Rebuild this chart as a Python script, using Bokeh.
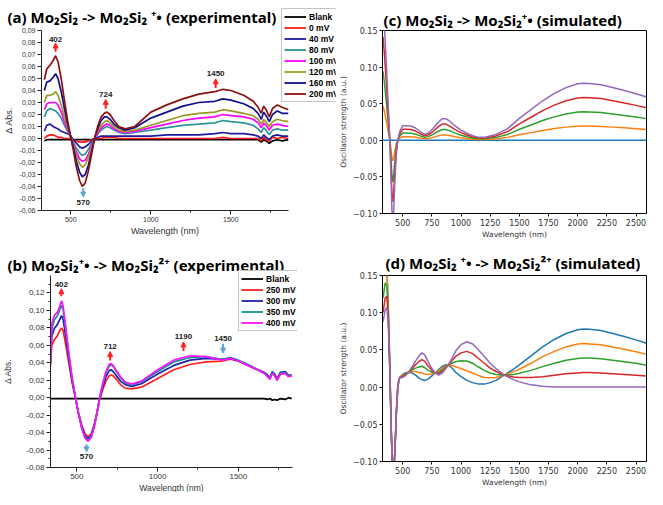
from bokeh.plotting import figure
from bokeh.layouts import column, row
from bokeh.models import (FixedTicker, CustomJSTickFormatter, Legend, LegendItem,
                          Arrow, NormalHead, Label, Range1d)
from bokeh.embed import file_html
from bokeh.resources import INLINE

# ---------------- Panel (a): experimental, Mo2Si2 -> Mo2Si2+ ----------------
wl_a = [335, 350, 370, 390, 405, 420, 440, 460, 480, 495, 515, 535, 555, 572, 590,
        610, 630, 648, 670, 690, 710, 725, 745, 770, 800, 840, 900, 1000, 1100, 1200,
        1300, 1400, 1450, 1500, 1580, 1640, 1670, 1690, 1705, 1720, 1740, 1760, 1790, 1820, 1860]
a_blank = [-0.002, -0.001, -0.001, -0.001, -0.001, -0.001, -0.001, -0.001, -0.001, -0.001,
           -0.001, -0.001, -0.001, -0.001, -0.001, -0.001, -0.001, -0.001, -0.001, -0.001,
           -0.001, -0.001, -0.001, -0.001, -0.001, -0.001, -0.001, -0.001, -0.001, -0.001,
           -0.001, -0.001, -0.001, -0.001, -0.001, -0.001, -0.001, -0.003, -0.001, -0.002,
           -0.004, -0.002, -0.001, -0.002, -0.001]
a_0 = [0.000, 0.002, 0.003, 0.003, 0.002, 0.001, 0.001, 0.000, 0.000, 0.000,
       -0.001, -0.002, -0.003, -0.003, -0.003, -0.002, -0.001, 0.000, 0.000, 0.000,
       0.001, 0.001, 0.001, 0.001, 0.000, 0.000, 0.000, 0.000, 0.000, 0.000,
       0.000, 0.000, 0.001, 0.000, 0.000, 0.000, 0.000, -0.002, 0.001, -0.001,
       -0.002, 0.001, 0.000, 0.001, 0.000]
a_40 = [0.006, 0.011, 0.012, 0.010, 0.009, 0.008, 0.006, 0.005, 0.004, 0.003,
        -0.001, -0.004, -0.007, -0.008, -0.007, -0.005, -0.002, 0.000, 0.001, 0.002,
        0.002, 0.002, 0.002, 0.002, 0.002, 0.002, 0.002, 0.002, 0.003, 0.003,
        0.003, 0.004, 0.005, 0.004, 0.004, 0.003, 0.002, 0.000, 0.003, 0.001,
        -0.001, 0.002, 0.003, 0.002, 0.002]
a_80 = [0.018, 0.023, 0.025, 0.024, 0.023, 0.021, 0.017, 0.011, 0.006, 0.003,
        -0.003, -0.008, -0.012, -0.014, -0.013, -0.009, -0.004, 0.000, 0.004, 0.007,
        0.009, 0.010, 0.009, 0.007, 0.005, 0.004, 0.005, 0.007, 0.009, 0.011,
        0.012, 0.013, 0.015, 0.014, 0.013, 0.011, 0.008, 0.005, 0.009, 0.007,
        0.003, 0.007, 0.008, 0.007, 0.007]
a_100 = [0.024, 0.029, 0.030, 0.030, 0.030, 0.028, 0.022, 0.014, 0.007, 0.003,
         -0.004, -0.011, -0.017, -0.019, -0.018, -0.013, -0.006, 0.000, 0.005, 0.009,
         0.011, 0.012, 0.011, 0.008, 0.006, 0.005, 0.006, 0.009, 0.012, 0.015,
         0.017, 0.018, 0.020, 0.019, 0.018, 0.016, 0.013, 0.009, 0.013, 0.011,
         0.007, 0.011, 0.012, 0.011, 0.010]
a_120 = [0.030, 0.036, 0.036, 0.037, 0.039, 0.036, 0.028, 0.018, 0.009, 0.003,
         -0.005, -0.014, -0.021, -0.024, -0.022, -0.016, -0.008, 0.000, 0.007, 0.011,
         0.014, 0.015, 0.013, 0.010, 0.007, 0.006, 0.007, 0.011, 0.015, 0.019,
         0.021, 0.022, 0.024, 0.023, 0.021, 0.019, 0.016, 0.012, 0.016, 0.014,
         0.010, 0.014, 0.016, 0.015, 0.014]
a_160 = [0.040, 0.047, 0.048, 0.051, 0.054, 0.050, 0.039, 0.025, 0.012, 0.004,
         -0.007, -0.019, -0.028, -0.032, -0.030, -0.022, -0.011, 0.000, 0.009, 0.015,
         0.018, 0.018, 0.016, 0.012, 0.009, 0.007, 0.009, 0.017, 0.022, 0.027,
         0.030, 0.031, 0.033, 0.032, 0.029, 0.025, 0.021, 0.016, 0.022, 0.019,
         0.014, 0.020, 0.023, 0.021, 0.021]
a_200 = [0.049, 0.058, 0.061, 0.065, 0.069, 0.064, 0.050, 0.032, 0.015, 0.004,
         -0.009, -0.024, -0.035, -0.040, -0.037, -0.027, -0.013, 0.000, 0.011, 0.018,
         0.021, 0.022, 0.020, 0.015, 0.010, 0.008, 0.010, 0.022, 0.028, 0.033,
         0.037, 0.039, 0.041, 0.040, 0.036, 0.031, 0.026, 0.021, 0.027, 0.024,
         0.018, 0.025, 0.028, 0.026, 0.024]
a_labels = ["Blank", "0 mV", "40 mV", "80 mV", "100 mV", "120 mV", "160 mV", "200 mV"]
a_colors = ["#000000", "#ff1a1a", "#1c1ca0", "#2e9499", "#ff00ff", "#999926", "#10108c", "#8b1010"]
a_yticks = [-0.06, -0.05, -0.04, -0.03, -0.02, -0.01, 0.0, 0.01, 0.02, 0.03, 0.04, 0.05, 0.06, 0.07, 0.08, 0.09]
a_ann_x = [405, 718, 1405, 578]
a_ann_y0 = [0.0722, 0.0248, 0.0420, -0.0414]
a_ann_y1 = [0.0796, 0.0326, 0.0497, -0.0488]
a_ann_text = ["402", "724", "1450", "570"]
a_ann_ty = [0.0808, 0.0350, 0.0522, -0.0509]

# ---------------- Panel (b): experimental, Mo2Si2+ -> Mo2Si2 2+ ----------------
wl_b = [335, 345, 360, 380, 395, 405, 415, 430, 450, 470, 490, 510, 530, 550, 570, 590,
        610, 625, 640, 660, 680, 700, 712, 725, 745, 770, 800, 840, 900, 1000, 1100, 1200,
        1300, 1400, 1450, 1500, 1560, 1620, 1660, 1680, 1695, 1710, 1725, 1740, 1760, 1790, 1810, 1830]
b_blank = [-0.001, -0.001, -0.001, -0.001, -0.001, -0.001, -0.001, -0.001, -0.001, -0.001,
           -0.001, -0.001, -0.001, -0.001, -0.001, -0.001, -0.001, -0.001, -0.001, -0.001,
           -0.001, -0.001, -0.001, -0.001, -0.001, -0.001, -0.001, -0.001, -0.001, -0.001,
           -0.001, -0.001, -0.001, -0.001, -0.001, -0.001, -0.001, -0.001, -0.001, -0.002,
           -0.001, -0.003, -0.002, -0.003, -0.001, -0.002, 0.000, -0.001]
b_250 = [0.034, 0.060, 0.066, 0.071, 0.077, 0.080, 0.077, 0.062, 0.040, 0.018,
         0.001, -0.017, -0.031, -0.041, -0.045, -0.041, -0.029, -0.017, -0.003, 0.009,
         0.019, 0.025, 0.026, 0.025, 0.021, 0.015, 0.011, 0.010, 0.012, 0.022,
         0.032, 0.038, 0.041, 0.042, 0.044, 0.042, 0.037, 0.032, 0.028, 0.025,
         0.022, 0.028, 0.025, 0.020, 0.027, 0.028, 0.025, 0.025]
b_300 = [0.036, 0.070, 0.079, 0.084, 0.090, 0.094, 0.090, 0.072, 0.045, 0.020,
         0.001, -0.018, -0.033, -0.044, -0.047, -0.043, -0.030, -0.017, -0.002, 0.012,
         0.024, 0.031, 0.032, 0.030, 0.025, 0.019, 0.015, 0.013, 0.016, 0.027,
         0.037, 0.043, 0.045, 0.044, 0.045, 0.042, 0.037, 0.032, 0.029, 0.026,
         0.023, 0.030, 0.027, 0.022, 0.029, 0.030, 0.026, 0.026]
b_350 = [0.035, 0.078, 0.089, 0.094, 0.101, 0.106, 0.101, 0.080, 0.050, 0.023,
         0.002, -0.018, -0.034, -0.045, -0.049, -0.044, -0.031, -0.017, -0.001, 0.015,
         0.029, 0.036, 0.038, 0.036, 0.030, 0.023, 0.017, 0.0145, 0.018, 0.030,
         0.041, 0.046, 0.047, 0.044, 0.046, 0.043, 0.038, 0.032, 0.028, 0.025,
         0.022, 0.029, 0.026, 0.021, 0.028, 0.029, 0.025, 0.026]
b_400 = [0.035, 0.085, 0.094, 0.098, 0.105, 0.111, 0.105, 0.083, 0.052, 0.024,
         0.002, -0.018, -0.035, -0.046, -0.050, -0.045, -0.032, -0.018, -0.001, 0.016,
         0.030, 0.038, 0.039, 0.037, 0.031, 0.024, 0.018, 0.0155, 0.019, 0.032,
         0.043, 0.048, 0.047, 0.043, 0.045, 0.042, 0.037, 0.032, 0.028, 0.024,
         0.021, 0.028, 0.025, 0.020, 0.027, 0.028, 0.024, 0.025]
b_labels = ["Blank", "250 mV", "300 mV", "350 mV", "400 mV"]
b_colors = ["#000000", "#ff2020", "#2020b0", "#109090", "#ff10ff"]
b_yticks = [-0.08, -0.06, -0.04, -0.02, 0.0, 0.02, 0.04, 0.06, 0.08, 0.10, 0.12]
b_yminor = [-0.07, -0.05, -0.03, -0.01, 0.01, 0.03, 0.05, 0.07, 0.09, 0.11, 0.13]
b_ann_x = [404, 706, 1160, 1405, 560]
b_ann_y0 = [0.1163, 0.0425, 0.0536, 0.0617, -0.0534]
b_ann_y1 = [0.1248, 0.0528, 0.0639, 0.0511, -0.0620]
b_ann_text = ["402", "712", "1190", "1450", "570"]
b_ann_ty = [0.1264, 0.0556, 0.0667, 0.0650, -0.0640]

# ---------------- Panel (c): simulated, Mo2Si2 -> Mo2Si2+ ----------------
wl_c = [332, 345, 360, 375, 390, 400, 408, 415, 423, 432, 445, 458, 475, 500, 530, 570,
        610, 650, 690, 720, 760, 800, 840, 870, 900, 950, 1000, 1050, 1100, 1150, 1200,
        1250, 1300, 1400, 1500, 1600, 1700, 1800, 1900, 2000, 2050, 2100, 2200, 2300, 2400, 2500, 2590]
c_blue = [0.0, 0.0, 0.0, 0.0, 0.0, 0.0, 0.0, 0.0, 0.0, 0.0, 0.0, 0.0, 0.0, 0.0, 0.0, 0.0,
          0.0, 0.0, 0.0, 0.0, 0.0, 0.0, 0.0, 0.0, 0.0, 0.0, 0.0, 0.0, 0.0, 0.0, 0.0,
          0.0, 0.0, 0.0, 0.0, 0.0, 0.0, 0.0, 0.0, 0.0, 0.0, 0.0, 0.0, 0.0, 0.0, 0.0, 0.0]
c_orange = [0.047, 0.038, 0.026, 0.013, 0.000, -0.013, -0.024, -0.028, -0.024, -0.015,
            -0.005, 0.000, 0.003, 0.005, 0.005, 0.0049, 0.0042, 0.003, 0.002, 0.0025,
            0.004, 0.006, 0.0074, 0.0074, 0.0066, 0.0049, 0.0035, 0.0024, 0.0016, 0.001,
            0.001, 0.0015, 0.002, 0.004, 0.0075, 0.0105, 0.0135, 0.016, 0.018, 0.0193,
            0.0195, 0.0194, 0.019, 0.018, 0.017, 0.0159, 0.0148]
c_green = [0.094, 0.076, 0.052, 0.026, 0.000, -0.026, -0.048, -0.057, -0.048, -0.030,
           -0.010, 0.000, 0.006, 0.010, 0.010, 0.0098, 0.0084, 0.006, 0.004, 0.005,
           0.008, 0.012, 0.0148, 0.0148, 0.0132, 0.0098, 0.007, 0.0048, 0.0032, 0.002,
           0.002, 0.003, 0.004, 0.008, 0.015, 0.021, 0.027, 0.032, 0.036, 0.0386,
           0.039, 0.0388, 0.038, 0.036, 0.034, 0.0318, 0.0296]
c_red = [0.141, 0.114, 0.078, 0.039, 0.000, -0.039, -0.072, -0.084, -0.072, -0.045,
         -0.015, 0.000, 0.009, 0.015, 0.015, 0.0147, 0.0126, 0.009, 0.006, 0.0075,
         0.012, 0.018, 0.0222, 0.0222, 0.0198, 0.0147, 0.0105, 0.0072, 0.0048, 0.003,
         0.003, 0.0045, 0.006, 0.012, 0.0225, 0.0315, 0.0405, 0.048, 0.054, 0.0579,
         0.0585, 0.0582, 0.057, 0.054, 0.051, 0.0477, 0.0444]
c_purple = [0.188, 0.152, 0.104, 0.052, 0.000, -0.052, -0.096, -0.112, -0.096, -0.060,
            -0.020, 0.000, 0.012, 0.020, 0.020, 0.0196, 0.0168, 0.012, 0.008, 0.010,
            0.016, 0.024, 0.0296, 0.0296, 0.0264, 0.0196, 0.014, 0.0096, 0.0064, 0.004,
            0.004, 0.006, 0.008, 0.016, 0.030, 0.042, 0.054, 0.064, 0.072, 0.0772,
            0.078, 0.0776, 0.076, 0.072, 0.068, 0.0636, 0.0592]

# ---------------- Panel (d): simulated, Mo2Si2+ -> Mo2Si2 2+ ----------------
wl_d = [332, 350, 365, 378, 390, 400, 412, 422, 435, 447, 458, 468, 480, 500, 520, 550,
        580, 610, 640, 665, 690, 720, 750, 780, 810, 840, 870, 890, 920, 960, 1000, 1050,
        1100, 1150, 1200, 1250, 1300, 1370, 1450, 1500, 1600, 1700, 1800, 1900, 2000,
        2050, 2100, 2200, 2300, 2400, 2500, 2590]
d_blue = [0.160, 0.172, 0.160, 0.100, 0.030, -0.045, -0.115, -0.120, -0.080, -0.030,
          0.000, 0.010, 0.014, 0.017, 0.019, 0.020, 0.019, 0.016, 0.012, 0.010,
          0.009, 0.011, 0.015, 0.019, 0.024, 0.028, 0.030, 0.0295, 0.026, 0.019,
          0.014, 0.009, 0.006, 0.004, 0.004, 0.006, 0.009, 0.016, 0.024, 0.030,
          0.042, 0.054, 0.064, 0.072, 0.077, 0.078, 0.0778, 0.076, 0.072, 0.068,
          0.0635, 0.059]
d_orange = [0.152, 0.168, 0.156, 0.098, 0.028, -0.045, -0.115, -0.120, -0.080, -0.030,
            0.000, 0.010, 0.014, 0.016, 0.018, 0.020, 0.021, 0.021, 0.0195, 0.019,
            0.0175, 0.017, 0.0175, 0.019, 0.022, 0.026, 0.029, 0.0295, 0.029, 0.027,
            0.025, 0.022, 0.019, 0.0155, 0.013, 0.0125, 0.013, 0.016, 0.0205, 0.024,
            0.032, 0.041, 0.048, 0.054, 0.058, 0.0585, 0.058, 0.057, 0.054, 0.051,
            0.0475, 0.044]
d_green = [0.120, 0.140, 0.136, 0.090, 0.025, -0.045, -0.115, -0.120, -0.080, -0.030,
           0.000, 0.010, 0.0135, 0.015, 0.017, 0.020, 0.023, 0.0255, 0.027, 0.028,
           0.026, 0.0225, 0.020, 0.019, 0.020, 0.0235, 0.0275, 0.0295, 0.032, 0.0345,
           0.0355, 0.035, 0.032, 0.027, 0.0225, 0.019, 0.017, 0.016, 0.017, 0.0185,
           0.0225, 0.0275, 0.032, 0.036, 0.0385, 0.039, 0.039, 0.038, 0.036, 0.034,
           0.032, 0.0295]
d_red = [0.100, 0.120, 0.122, 0.085, 0.022, -0.045, -0.115, -0.120, -0.080, -0.030,
         0.000, 0.010, 0.013, 0.014, 0.016, 0.020, 0.025, 0.030, 0.0345, 0.037,
         0.0345, 0.028, 0.0225, 0.019, 0.018, 0.021, 0.026, 0.0295, 0.035, 0.042,
         0.046, 0.048, 0.045, 0.0385, 0.032, 0.0255, 0.021, 0.016, 0.0135, 0.013,
         0.013, 0.014, 0.016, 0.018, 0.019, 0.0195, 0.0195, 0.019, 0.018, 0.017,
         0.016, 0.0148]
d_purple = [0.088, 0.104, 0.107, 0.078, 0.020, -0.045, -0.115, -0.120, -0.080, -0.030,
            0.000, 0.010, 0.013, 0.013, 0.015, 0.020, 0.027, 0.035, 0.042, 0.046,
            0.043, 0.034, 0.025, 0.019, 0.016, 0.019, 0.025, 0.0295, 0.038, 0.050,
            0.057, 0.061, 0.058, 0.050, 0.041, 0.032, 0.025, 0.016, 0.010, 0.007,
            0.003, 0.001, 0.000, 0.000, 0.000, 0.000, 0.000, 0.000, 0.000, 0.000,
            0.000, 0.000]
sim_colors = ["#1f77b4", "#ff7f0e", "#2ca02c", "#d62728", "#9467bd"]
sim_xticks = [500, 750, 1000, 1250, 1500, 1750, 2000, 2250, 2500]
sim_yticks = [-0.10, -0.05, 0.0, 0.05, 0.10, 0.15]

titles = ["(a) Mo\u2082Si\u2082 -> Mo\u2082Si\u2082 \u207a\u2022 (experimental)",
          "(b) Mo\u2082Si\u2082\u207a\u2022 -> Mo\u2082Si\u2082\u00b2\u207a (experimental)",
          "(c) Mo\u2082Si\u2082 -> Mo\u2082Si\u2082\u207a\u2022 (simulated)",
          "(d) Mo\u2082Si\u2082 \u207a\u2022 -> Mo\u2082Si\u2082\u00b2\u207a (simulated)"]

RED_ARROW = "#ff2020"
BLUE_ARROW = "#5aa6d6"
ORIGIN_FONT = "Liberation Sans"
MPL_FONT = "DejaVu Sans"


def style_title(p, offset, standoff):
    p.title.text_font = "Noto Sans"
    p.title.text_font_size = "15px"
    p.title.text_font_style = "bold"
    p.title.text_color = "black"
    p.title.align = "left"
    p.title.offset = offset
    p.title.standoff = standoff


def origin_axes(p, yticks, yminor, label_size, tick_size, ylabel_standoff):
    p.outline_line_color = None
    p.xgrid.grid_line_color = None
    p.ygrid.grid_line_color = None
    p.xaxis.ticker = FixedTicker(ticks=[500, 1000, 1500], minor_ticks=[750, 1250, 1750])
    p.yaxis.ticker = FixedTicker(ticks=yticks, minor_ticks=yminor)
    p.yaxis.formatter = CustomJSTickFormatter(code="return tick.toFixed(2).replace('.', ',');")
    for ax in (p.xaxis[0], p.yaxis[0]):
        ax.axis_line_color = "#222222"
        ax.major_tick_line_color = "#222222"
        ax.minor_tick_line_color = "#222222"
        ax.major_tick_out = 4
        ax.major_tick_in = 0
        ax.minor_tick_out = 2
        ax.minor_tick_in = 0
        ax.major_label_text_font = ORIGIN_FONT
        ax.major_label_text_font_size = tick_size
        ax.major_label_text_color = "#333333"
        ax.major_label_standoff = 2
        ax.axis_label_text_font = ORIGIN_FONT
        ax.axis_label_text_font_size = label_size
        ax.axis_label_text_font_style = "normal"
        ax.axis_label_text_color = "#333333"
    p.xaxis.axis_label_standoff = 1
    p.yaxis.axis_label_standoff = ylabel_standoff
    p.xaxis.axis_label = "Wavelength (nm)"
    p.yaxis.axis_label = "\u0394 Abs."


def mpl_axes(p):
    p.outline_line_color = "black"
    p.outline_line_width = 1
    p.xgrid.grid_line_color = None
    p.ygrid.grid_line_color = None
    p.xaxis.ticker = FixedTicker(ticks=sim_xticks)
    p.yaxis.ticker = FixedTicker(ticks=sim_yticks)
    p.yaxis.formatter = CustomJSTickFormatter(
        code="return tick.toFixed(2).replace('-', '\u2212');")
    for ax in (p.xaxis[0], p.yaxis[0]):
        ax.axis_line_color = "black"
        ax.major_tick_line_color = "black"
        ax.minor_tick_line_color = None
        ax.major_tick_out = 3
        ax.major_tick_in = 0
        ax.major_label_text_font = MPL_FONT
        ax.major_label_text_font_size = "8px"
        ax.major_label_text_color = "#333333"
        ax.major_label_standoff = 2
        ax.axis_label_text_font = MPL_FONT
        ax.axis_label_text_font_size = "7.5px"
        ax.axis_label_text_font_style = "normal"
        ax.axis_label_text_color = "#333333"
        ax.axis_label_standoff = 2
    p.xaxis.axis_label_standoff = 1
    p.xaxis.axis_label = "Wavelength (nm)"
    p.yaxis.axis_label = "Oscillator strength (a.u.)"


def annotate(p, xs, y0s, y1s, texts, tys):
    for x, y0, y1, t, ty in zip(xs, y0s, y1s, texts, tys):
        col = RED_ARROW if y1 > y0 else BLUE_ARROW
        p.add_layout(Arrow(end=NormalHead(size=5, fill_color=col, line_color=col, line_width=1),
                           x_start=x, y_start=y0, x_end=x, y_end=y1,
                           line_color=col, line_width=2))
        p.add_layout(Label(x=x, y=ty, text=t, text_align="center",
                           text_baseline="bottom" if ty > y1 else "top",
                           text_font=ORIGIN_FONT, text_font_size="8px",
                           text_font_style="bold", text_color="#222222"))


def legend_box(wl, series, labels, colors, width, height, margin):
    """A small frameless figure holding only the legend, laid over its panel.
    Its proxy lines use the panel's data but lie outside this tiny figure's range."""
    lg = figure(width=width, height=height, x_range=Range1d(0, 1), y_range=Range1d(0, 1),
                x_axis_location=None, y_axis_location=None,
                output_backend="svg", toolbar_location=None, min_border=0, margin=margin)
    try:
        lg.title = None
    except Exception:
        lg.title.text = ""
        lg.title.text_font_size = "0px"
        lg.title.standoff = 0
    lg.outline_line_color = None
    lg.background_fill_alpha = 0
    lg.border_fill_alpha = 0
    lg.xgrid.grid_line_color = None
    lg.ygrid.grid_line_color = None
    rs = [lg.line(wl, ys, line_color=c, line_width=1.8) for ys, c in zip(series, colors)]
    leg = Legend(items=[LegendItem(label=l, renderers=[r]) for l, r in zip(labels, rs)],
                 location="top_left")
    leg.label_text_font = ORIGIN_FONT
    leg.label_text_font_size = "8.5px"
    leg.label_text_font_style = "bold"
    leg.label_text_color = "black"
    leg.glyph_width = 22
    leg.glyph_height = 11
    leg.label_height = 11
    leg.label_standoff = 3
    leg.spacing = 0
    leg.padding = 2
    leg.margin = 0
    leg.border_line_color = "#8a8a8a"
    leg.border_line_width = 1
    leg.background_fill_color = "white"
    leg.background_fill_alpha = 1
    lg.add_layout(leg)
    return lg


# ---------- (a) ----------
pa = figure(width=335, frame_height=180, x_range=Range1d(317, 1860),
            y_range=Range1d(-0.06, 0.09), title=titles[0], output_backend="svg",
            toolbar_location=None, min_border_left=35, min_border_right=47,
            min_border_top=25, min_border_bottom=34)
style_title(pa, -34, 8)
origin_axes(pa, a_yticks, [], "9px", "7px", 3)
a_series = [a_blank, a_0, a_40, a_80, a_100, a_120, a_160, a_200]
for ys, col in zip(a_series, a_colors):
    pa.line(wl_a, ys, line_color=col, line_width=1.7)
annotate(pa, a_ann_x, a_ann_y0, a_ann_y1, a_ann_text, a_ann_ty)
lega = legend_box(wl_a, a_series, a_labels, a_colors, 61, 170, (-22, -7, 0, -54))

# ---------- (c) ----------
pc = figure(width=312, frame_height=183, x_range=Range1d(327, 2590),
            y_range=Range1d(-0.10, 0.15), title=titles[2], output_backend="svg",
            toolbar_location=None, min_border_left=39, min_border_right=1,
            min_border_top=16, min_border_bottom=33)
style_title(pc, 1, 1)
mpl_axes(pc)
for ys, col in zip([c_blue, c_orange, c_green, c_red, c_purple], sim_colors):
    pc.line(wl_c, ys, line_color=col, line_width=1.5)

# ---------- (b) ----------
pb = figure(width=335, frame_height=192, x_range=Range1d(337, 1835),
            y_range=Range1d(-0.08, 0.14), title=titles[1], output_backend="svg",
            toolbar_location=None, min_border_left=44, min_border_right=43,
            min_border_top=25, min_border_bottom=31)
style_title(pb, -43, 1)
origin_axes(pb, b_yticks, b_yminor, "8.5px", "8px", 10)
b_series = [b_blank, b_250, b_300, b_350, b_400]
for ys, col in zip(b_series, b_colors):
    pb.line(wl_b, ys, line_color=col, line_width=1.7)
annotate(pb, b_ann_x, b_ann_y0, b_ann_y1, b_ann_text, b_ann_ty)
legb = legend_box(wl_b, b_series, b_labels, b_colors, 59, 140, (-5, 38, 0, -97))

# ---------- (d) ----------
pd_ = figure(width=312, frame_height=186, x_range=Range1d(327, 2590),
             y_range=Range1d(-0.10, 0.15), title=titles[3], output_backend="svg",
             toolbar_location=None, min_border_left=38, min_border_right=1,
             min_border_top=31, min_border_bottom=31)
style_title(pd_, 3, 6)
mpl_axes(pd_)
for ys, col in zip([d_blue, d_orange, d_green, d_red, d_purple], sim_colors):
    pd_.line(wl_d, ys, line_color=col, line_width=1.5)

layout = column(row(pa, lega, pc), row(pb, legb, pd_))
open("out.html", "w").write(file_html(layout, INLINE))
